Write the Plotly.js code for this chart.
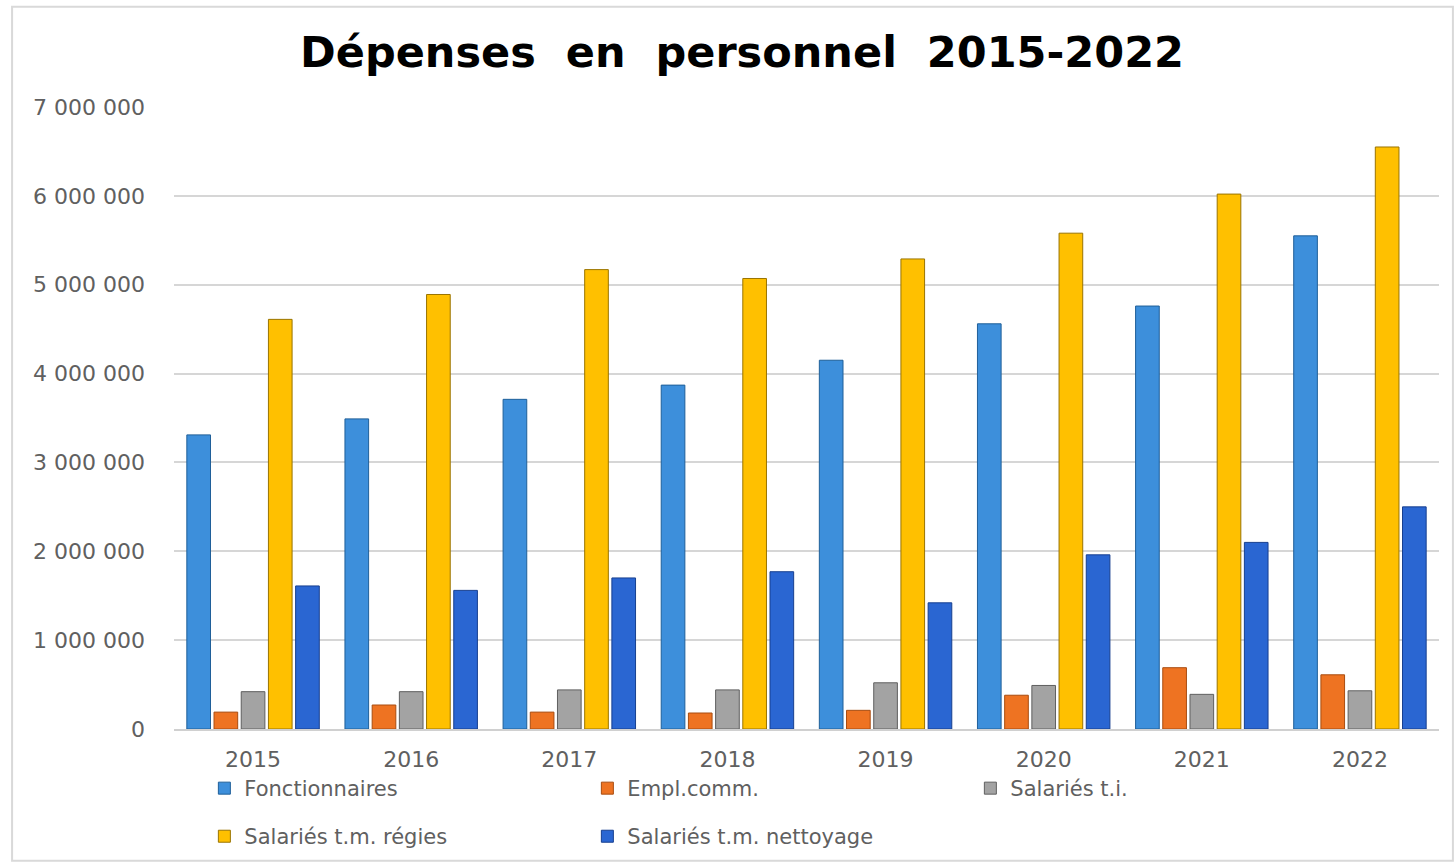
<!DOCTYPE html>
<html>
<head>
<meta charset="utf-8">
<script src="https://cdn.plot.ly/plotly-3.0.1.min.js"></script>
<style>html,body{margin:0;padding:0;background:#fff;}#chart{width:1455px;height:862px;}</style>
</head>
<body>
<div id="chart"></div>
<script>
var years = ['2015','2016','2017','2018','2019','2020','2021','2022'];
var seriesNames = ['Fonctionnaires','Empl.comm.','Salariés t.i.','Salariés t.m. régies','Salariés t.m. nettoyage'];
var fonctionnaires = [3310000, 3490000, 3710000, 3870000, 4150000, 4560000, 4760000, 5550000];
var emplComm      = [190000, 270000, 190000, 180000, 210000, 380000, 690000, 610000];
var salariesTI    = [420000, 420000, 440000, 440000, 520000, 490000, 390000, 430000];
var salariesRegies= [4610000, 4890000, 5170000, 5070000, 5290000, 5580000, 6020000, 6550000];
var salariesNett  = [1610000, 1560000, 1700000, 1770000, 1420000, 1960000, 2100000, 2500000];
var yTicks = [0, 1000000, 2000000, 3000000, 4000000, 5000000, 6000000, 7000000];

var values = [fonctionnaires, emplComm, salariesTI, salariesRegies, salariesNett];
var colors = ['#3d8fdb', '#ee7322', '#a3a3a3', '#ffc000', '#2a66d2'];
var lines  = ['#1f5f99', '#a84c10', '#5f5f5f', '#9a7400', '#173f8f'];
var legends = ['legend','legend','legend','legend2','legend2'];

var data = values.map(function(v, i){
  return {
    type: 'bar', x: years, y: v, name: seriesNames[i],
    marker: {color: colors[i], line: {color: lines[i], width: 1}},
    legend: legends[i],
    hoverinfo: 'x+y+name'
  };
});

var tickFont = {family: '"DejaVu Sans", sans-serif', size: 22, color: '#606060'};
var legendFont = {family: '"DejaVu Sans", sans-serif', size: 21, color: '#606060'};

var layout = {
  width: 1455, height: 862,
  paper_bgcolor: '#fff', plot_bgcolor: '#fff',
  margin: {l: 174, r: 16, t: 107, b: 133, autoexpand: false},
  separators: ', ',
  title: {text: 'Dépenses  en  personnel  2015-2022', x: 0.51, xanchor: 'center', y: 0.94, yanchor: 'middle',
          font: {family: '"DejaVu Sans", sans-serif', size: 43, color: '#000', weight: 'bold'}},
  barmode: 'group', bargap: 0.14, bargroupgap: 0.13,
  xaxis: {type: 'category', showline: true, linecolor: '#d0d0d0', linewidth: 2, showgrid: false,
          ticks: '', tickfont: tickFont, ticklabelstandoff: 10, fixedrange: true, automargin: false},
  yaxis: {range: [0, 7000000], tickvals: yTicks, tickformat: ',d', showgrid: true, gridcolor: '#d6d6d6', gridwidth: 2,
          zeroline: false, showline: false, ticks: '', tickfont: tickFont, ticklabelstandoff: 28, fixedrange: true, automargin: false},
  showlegend: true,
  legend: {orientation: 'h', x: 0.024, xanchor: 'left', y: -0.0627, yanchor: 'top', font: legendFont,
           entrywidth: 338, entrywidthmode: 'pixels', itemwidth: 30, bgcolor: 'rgba(0,0,0,0)', traceorder: 'normal'},
  legend2: {orientation: 'h', x: 0.024, xanchor: 'left', y: -0.140, yanchor: 'top', font: legendFont,
           entrywidth: 338, entrywidthmode: 'pixels', itemwidth: 30, bgcolor: 'rgba(0,0,0,0)', traceorder: 'normal'},
  shapes: [
    {type: 'rect', xref: 'paper', yref: 'paper', x0: -0.128, x1: 1.011, y0: -0.212, y1: 1.161,
     line: {color: '#d9d9d9', width: 2}, fillcolor: 'rgba(0,0,0,0)', layer: 'below'}
  ]
};

Plotly.newPlot('chart', data, layout, {displayModeBar: false, staticPlot: false});
</script>
</body>
</html>
